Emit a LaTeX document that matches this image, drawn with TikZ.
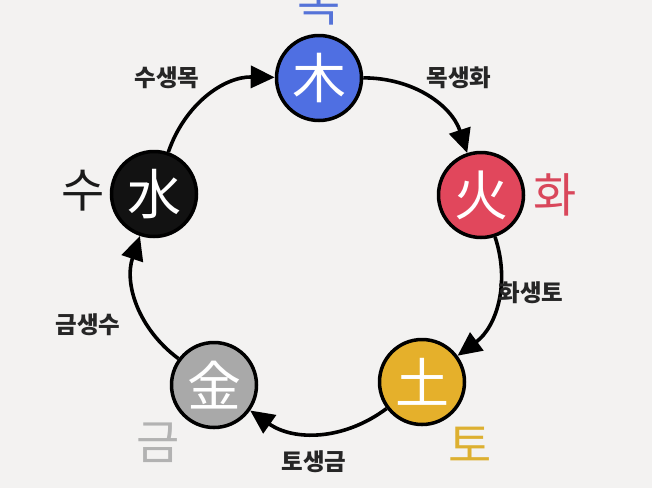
\documentclass[tikz,border=0pt]{standalone}
\usepackage{fontspec}
\newfontfamily\kr{Noto Sans CJK KR}
\usetikzlibrary{arrows.meta}
\definecolor{bg}{HTML}{F3F2F1}
\definecolor{cwood}{HTML}{4F6FE2}
\definecolor{cfire}{HTML}{E1475C}
\definecolor{cearth}{HTML}{E5B02B}
\definecolor{cmetal}{HTML}{A9A9A9}
\definecolor{cwater}{HTML}{121212}
\definecolor{lwood}{HTML}{5573D8}
\definecolor{lfire}{HTML}{D9475B}
\definecolor{learth}{HTML}{DDB030}
\definecolor{lmetal}{HTML}{B2B2B2}
\definecolor{lwater}{HTML}{1A1A1A}
\tikzset{
  elem/.style={circle, draw=black, line width=3.5pt, minimum size=85pt, inner sep=0pt,
    text=white, font=\kr\fontsize{54}{54}\selectfont},
  big/.style={font=\kr\fontsize{47}{47}\selectfont, inner sep=0pt},
  rel/.style={font=\kr\bfseries\fontsize{23.5}{24}\selectfont, text=black!85, inner sep=0pt},
  cyc/.style={line width=3.6pt, -{Triangle[length=24pt,width=22pt]}, bend left=36}
}
\begin{document}
\begin{tikzpicture}[x=1pt,y=-1pt]
\useasboundingbox[fill=bg] (0,0) rectangle (652,488);
\node[elem, fill=cwood]  (wood)  at (319,78)  {木};
\node[elem, fill=cfire]  (fire)  at (481,195) {火};
\node[elem, fill=cearth] (earth) at (422,382) {土};
\node[elem, fill=cmetal] (metal) at (214,385) {金};
\node[elem, fill=cwater] (water) at (154,194) {水};
\node[big, text=lwood]  (lw) at (319,5)   {목};
\node[big, text=lfire]  (lf) at (555,195) {화};
\node[big, text=learth] (le) at (470,445) {토};
\node[big, text=lmetal] (lm) at (158,443) {금};
\node[big, text=lwater] (lr) at (83,191)  {수};
\draw[cyc] (wood) to (fire);
\draw[cyc] (fire) to (earth);
\draw[cyc] (earth) to (metal);
\draw[cyc] (metal) to (water);
\draw[cyc] (water) to (wood);
\node[rel] (r1) at (167,78)  {수생목};
\node[rel] (r2) at (459,78)  {목생화};
\node[rel] (r3) at (531,293) {화생토};
\node[rel] (r4) at (314,462) {토생금};
\node[rel] (r5) at (88,325)  {금생수};
\end{tikzpicture}
\end{document}
